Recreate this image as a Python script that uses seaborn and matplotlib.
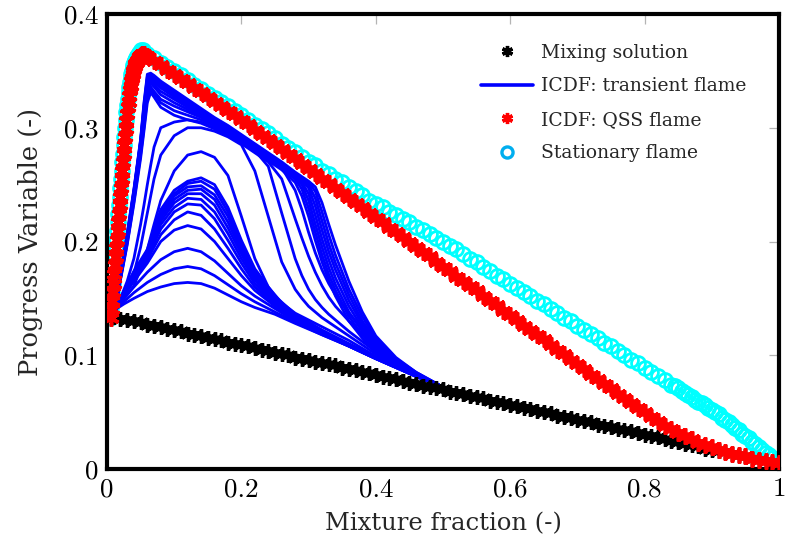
import matplotlib
matplotlib.use("Agg")
import matplotlib.pyplot as plt
from matplotlib.lines import Line2D
import pandas as pd
import seaborn as sns

# ---------------------------------------------------------------------------
# Mixture-fraction grid (shared by the marker series on their lean side)
# ---------------------------------------------------------------------------
Z_GRID = [
    0.00, 0.01, 0.02, 0.03, 0.04, 0.05, 0.06, 0.07, 0.08, 0.09,
    0.10, 0.11, 0.12, 0.13, 0.14, 0.15, 0.16, 0.17, 0.18, 0.19,
    0.20, 0.21, 0.22, 0.23, 0.24, 0.25, 0.26, 0.27, 0.28, 0.29,
    0.30, 0.31, 0.32, 0.33, 0.34, 0.35, 0.36, 0.37, 0.38, 0.39,
    0.40, 0.41, 0.42, 0.43, 0.44, 0.45, 0.46, 0.47, 0.48, 0.49,
    0.50, 0.51, 0.52, 0.53, 0.54, 0.55, 0.56, 0.57, 0.58, 0.59,
    0.60, 0.61, 0.62, 0.63, 0.64, 0.65, 0.66, 0.67, 0.68, 0.69,
    0.70, 0.71, 0.72, 0.73, 0.74, 0.75, 0.76, 0.77, 0.78, 0.79,
    0.80, 0.81, 0.82, 0.83, 0.84, 0.85, 0.86, 0.87, 0.88, 0.89,
    0.90, 0.91, 0.92, 0.93, 0.94, 0.95, 0.96, 0.97, 0.98, 0.99,
    1.00,
]

# Pure mixing (no reaction)
C_MIX = [
    0.135, 0.134, 0.132, 0.131, 0.130, 0.129, 0.127, 0.126, 0.125, 0.123,
    0.122, 0.121, 0.119, 0.118, 0.117, 0.115, 0.114, 0.113, 0.111, 0.110,
    0.109, 0.108, 0.106, 0.105, 0.104, 0.102, 0.101, 0.100, 0.098, 0.097,
    0.096, 0.094, 0.093, 0.092, 0.091, 0.089, 0.088, 0.087, 0.085, 0.084,
    0.083, 0.081, 0.080, 0.079, 0.077, 0.076, 0.075, 0.073, 0.072, 0.071,
    0.070, 0.068, 0.067, 0.066, 0.064, 0.063, 0.062, 0.060, 0.059, 0.058,
    0.056, 0.055, 0.054, 0.053, 0.051, 0.050, 0.049, 0.047, 0.046, 0.045,
    0.043, 0.042, 0.041, 0.039, 0.038, 0.037, 0.035, 0.034, 0.033, 0.032,
    0.030, 0.029, 0.028, 0.026, 0.025, 0.024, 0.022, 0.021, 0.020, 0.018,
    0.017, 0.016, 0.015, 0.013, 0.012, 0.011, 0.009, 0.008, 0.007, 0.005,
    0.004,
]

# ICDF quasi-steady flame: fine resolution across the reaction zone
Z_QSS_RICH = [
    0.006, 0.007, 0.008, 0.009, 0.010, 0.011, 0.012, 0.013, 0.014, 0.015,
    0.016, 0.017, 0.018, 0.019, 0.020, 0.021, 0.022, 0.023, 0.024, 0.025,
    0.026, 0.027, 0.028, 0.029, 0.030, 0.031, 0.032, 0.033, 0.034, 0.035,
    0.036, 0.037, 0.038, 0.039, 0.040, 0.041, 0.042, 0.043, 0.044, 0.045,
    0.046, 0.047, 0.048, 0.049, 0.050, 0.052, 0.055,
]
C_QSS_RICH = [
    0.133, 0.141, 0.148, 0.156, 0.163, 0.171, 0.179, 0.186, 0.194, 0.201,
    0.209, 0.217, 0.224, 0.232, 0.239, 0.247, 0.255, 0.262, 0.270, 0.277,
    0.285, 0.292, 0.299, 0.306, 0.312, 0.318, 0.323, 0.328, 0.333, 0.337,
    0.341, 0.344, 0.347, 0.350, 0.352, 0.354, 0.356, 0.357, 0.358, 0.359,
    0.360, 0.361, 0.362, 0.363, 0.364, 0.365, 0.365,
]
C_QSS_LEAN = [
    0.363, 0.359, 0.355, 0.351, 0.347, 0.343, 0.339, 0.335, 0.331, 0.327,
    0.323, 0.319, 0.315, 0.311, 0.307, 0.303, 0.298, 0.294, 0.290, 0.286,
    0.281, 0.277, 0.273, 0.268, 0.264, 0.260, 0.255, 0.251, 0.247, 0.243,
    0.238, 0.234, 0.230, 0.225, 0.221, 0.217, 0.212, 0.208, 0.204, 0.200,
    0.195, 0.191, 0.187, 0.182, 0.178, 0.174, 0.169, 0.165, 0.161, 0.157,
    0.152, 0.148, 0.144, 0.139, 0.135, 0.131, 0.126, 0.122, 0.118, 0.114,
    0.109, 0.105, 0.101, 0.096, 0.092, 0.088, 0.083, 0.079, 0.075, 0.071,
    0.066, 0.062, 0.058, 0.054, 0.050, 0.046, 0.042, 0.038, 0.035, 0.032,
    0.029, 0.026, 0.023, 0.021, 0.019, 0.017, 0.015, 0.013, 0.012, 0.011,
    0.009, 0.008, 0.007, 0.006, 0.005,
]

# Stationary flamelet solution
Z_STAT_RICH = [
    0.005, 0.006, 0.007, 0.008, 0.009, 0.010, 0.011, 0.012, 0.013, 0.014,
    0.015, 0.016, 0.017, 0.018, 0.019, 0.020, 0.021, 0.022, 0.023, 0.024,
    0.025, 0.026, 0.027, 0.028, 0.029, 0.030, 0.031, 0.032, 0.033, 0.034,
    0.035, 0.036, 0.037, 0.038, 0.039, 0.040, 0.041, 0.042, 0.043, 0.044,
    0.045, 0.046, 0.047, 0.048, 0.049, 0.051, 0.054,
]
C_STAT_RICH = [
    0.133, 0.141, 0.148, 0.156, 0.163, 0.171, 0.179, 0.186, 0.194, 0.201,
    0.209, 0.217, 0.224, 0.232, 0.239, 0.247, 0.255, 0.262, 0.270, 0.277,
    0.285, 0.292, 0.300, 0.307, 0.314, 0.320, 0.325, 0.331, 0.336, 0.340,
    0.344, 0.347, 0.350, 0.353, 0.355, 0.357, 0.359, 0.360, 0.361, 0.362,
    0.363, 0.364, 0.365, 0.366, 0.367, 0.368, 0.368,
]
# lean side on Z_GRID from 0.06 to 0.84
C_STAT_LEAN = [
    0.365, 0.361, 0.357, 0.353, 0.350, 0.346, 0.342, 0.338, 0.334, 0.330,
    0.326, 0.323, 0.319, 0.315, 0.311, 0.307, 0.302, 0.299, 0.295, 0.291,
    0.286, 0.282, 0.279, 0.274, 0.270, 0.267, 0.262, 0.259, 0.255, 0.252,
    0.248, 0.244, 0.241, 0.236, 0.233, 0.230, 0.226, 0.223, 0.220, 0.217,
    0.213, 0.210, 0.207, 0.203, 0.200, 0.196, 0.193, 0.189, 0.185, 0.182,
    0.178, 0.174, 0.170, 0.167, 0.163, 0.159, 0.156, 0.152, 0.148, 0.145,
    0.141, 0.137, 0.133, 0.130, 0.126, 0.122, 0.119, 0.115, 0.111, 0.108,
    0.104, 0.100, 0.096, 0.093, 0.089, 0.085, 0.082, 0.078, 0.074,
]
# fuel-side end, sampled more finely
Z_STAT_FUEL = [
    0.845, 0.850, 0.855, 0.860, 0.865, 0.870, 0.875, 0.880, 0.885, 0.890,
    0.895, 0.900, 0.905, 0.910, 0.915, 0.920, 0.925, 0.930, 0.935, 0.940,
    0.945, 0.950, 0.955, 0.960, 0.965, 0.970, 0.975, 0.980, 0.985, 0.990,
    0.995, 1.000,
]
C_STAT_FUEL = [
    0.073, 0.071, 0.069, 0.067, 0.065, 0.063, 0.061, 0.059, 0.058, 0.056,
    0.054, 0.052, 0.050, 0.048, 0.045, 0.043, 0.041, 0.039, 0.036, 0.034,
    0.031, 0.029, 0.027, 0.024, 0.022, 0.019, 0.017, 0.014, 0.012, 0.010,
    0.007, 0.005,
]

# ICDF transient flame snapshots -- early (weakly burning) states
T_Z_EARLY = [0.012, 0.025, 0.04, 0.06, 0.08, 0.10, 0.12, 0.14, 0.16, 0.18,
             0.20, 0.22, 0.25, 0.28, 0.32, 0.36, 0.40, 0.45, 0.50]
T_C_EARLY = [
    [0.140, 0.145, 0.150, 0.156, 0.160, 0.163, 0.164, 0.163, 0.159, 0.153, 0.147, 0.142, 0.136, 0.128, 0.118, 0.108, 0.097, 0.084, 0.072],
    [0.140, 0.147, 0.155, 0.164, 0.171, 0.176, 0.178, 0.176, 0.170, 0.162, 0.154, 0.147, 0.138, 0.129, 0.118, 0.108, 0.097, 0.084, 0.072],
    [0.140, 0.150, 0.160, 0.173, 0.184, 0.191, 0.194, 0.191, 0.183, 0.172, 0.161, 0.152, 0.141, 0.130, 0.119, 0.108, 0.097, 0.084, 0.072],
    [0.140, 0.152, 0.165, 0.181, 0.200, 0.210, 0.214, 0.211, 0.200, 0.185, 0.170, 0.157, 0.143, 0.131, 0.119, 0.108, 0.097, 0.084, 0.072],
    [0.140, 0.153, 0.167, 0.184, 0.206, 0.219, 0.226, 0.223, 0.211, 0.194, 0.176, 0.160, 0.144, 0.132, 0.120, 0.109, 0.098, 0.085, 0.072],
    [0.140, 0.154, 0.168, 0.186, 0.211, 0.226, 0.233, 0.232, 0.220, 0.201, 0.181, 0.163, 0.145, 0.132, 0.120, 0.109, 0.098, 0.085, 0.072],
    [0.140, 0.154, 0.169, 0.187, 0.215, 0.230, 0.238, 0.237, 0.226, 0.207, 0.185, 0.166, 0.146, 0.133, 0.120, 0.109, 0.098, 0.085, 0.072],
    [0.140, 0.155, 0.170, 0.188, 0.218, 0.234, 0.242, 0.242, 0.232, 0.212, 0.189, 0.168, 0.147, 0.133, 0.121, 0.109, 0.098, 0.085, 0.072],
    [0.140, 0.155, 0.171, 0.189, 0.221, 0.237, 0.245, 0.246, 0.237, 0.217, 0.192, 0.170, 0.148, 0.134, 0.121, 0.109, 0.098, 0.085, 0.072],
    [0.140, 0.155, 0.172, 0.190, 0.223, 0.240, 0.248, 0.249, 0.241, 0.222, 0.195, 0.172, 0.149, 0.134, 0.121, 0.109, 0.098, 0.085, 0.072],
    [0.140, 0.156, 0.173, 0.191, 0.225, 0.242, 0.251, 0.253, 0.246, 0.226, 0.198, 0.174, 0.150, 0.135, 0.122, 0.110, 0.098, 0.085, 0.072],
    [0.140, 0.156, 0.174, 0.193, 0.228, 0.245, 0.253, 0.256, 0.250, 0.230, 0.201, 0.176, 0.152, 0.136, 0.122, 0.110, 0.098, 0.085, 0.072],
]

# ICDF transient flame snapshots -- later (strongly burning) states
T_Z_LATE = [0.012, 0.02, 0.03, 0.04, 0.05, 0.055, 0.06, 0.065, 0.07, 0.08,
            0.10, 0.12, 0.14, 0.16, 0.18, 0.20, 0.22, 0.24, 0.26, 0.28,
            0.29, 0.30, 0.31, 0.32, 0.33, 0.34, 0.36, 0.38, 0.40, 0.43,
            0.46, 0.50]
T_C_LATE = [
    [0.140, 0.146, 0.153, 0.161, 0.176, 0.184, 0.193, 0.204, 0.215, 0.236, 0.262, 0.276, 0.279, 0.274, 0.258, 0.222, 0.185, 0.160, 0.146, 0.137, 0.134, 0.131, 0.128, 0.125, 0.122, 0.119, 0.113, 0.106, 0.099, 0.090, 0.081, 0.072],
    [0.140, 0.148, 0.158, 0.172, 0.195, 0.210, 0.225, 0.240, 0.255, 0.276, 0.293, 0.300, 0.300, 0.297, 0.292, 0.285, 0.262, 0.222, 0.182, 0.158, 0.150, 0.143, 0.138, 0.133, 0.129, 0.125, 0.117, 0.109, 0.101, 0.091, 0.082, 0.072],
    [0.140, 0.150, 0.165, 0.185, 0.215, 0.232, 0.250, 0.267, 0.283, 0.300, 0.305, 0.307, 0.305, 0.300, 0.294, 0.288, 0.280, 0.266, 0.225, 0.185, 0.170, 0.158, 0.149, 0.142, 0.136, 0.131, 0.121, 0.112, 0.103, 0.092, 0.082, 0.072],
    [0.140, 0.166, 0.197, 0.233, 0.273, 0.297, 0.322, 0.331, 0.327, 0.318, 0.311, 0.307, 0.304, 0.299, 0.293, 0.286, 0.278, 0.270, 0.255, 0.220, 0.203, 0.187, 0.173, 0.161, 0.151, 0.143, 0.130, 0.118, 0.107, 0.094, 0.083, 0.072],
    [0.140, 0.167, 0.198, 0.235, 0.276, 0.300, 0.326, 0.334, 0.330, 0.322, 0.315, 0.311, 0.307, 0.302, 0.296, 0.289, 0.281, 0.273, 0.265, 0.245, 0.228, 0.208, 0.190, 0.175, 0.163, 0.153, 0.137, 0.123, 0.111, 0.096, 0.084, 0.072],
    [0.140, 0.168, 0.200, 0.238, 0.280, 0.305, 0.330, 0.336, 0.332, 0.325, 0.319, 0.314, 0.309, 0.302, 0.295, 0.287, 0.279, 0.271, 0.263, 0.252, 0.240, 0.222, 0.201, 0.182, 0.166, 0.152, 0.130, 0.115, 0.103, 0.091, 0.082, 0.072],
    [0.140, 0.168, 0.201, 0.240, 0.282, 0.308, 0.333, 0.339, 0.336, 0.329, 0.322, 0.316, 0.310, 0.303, 0.296, 0.288, 0.280, 0.272, 0.264, 0.255, 0.246, 0.229, 0.208, 0.188, 0.171, 0.157, 0.134, 0.118, 0.105, 0.092, 0.082, 0.072],
    [0.140, 0.169, 0.202, 0.241, 0.284, 0.311, 0.336, 0.341, 0.338, 0.332, 0.325, 0.318, 0.311, 0.304, 0.297, 0.289, 0.281, 0.273, 0.265, 0.256, 0.250, 0.236, 0.215, 0.195, 0.177, 0.162, 0.138, 0.121, 0.107, 0.093, 0.083, 0.072],
    [0.140, 0.169, 0.203, 0.242, 0.286, 0.314, 0.339, 0.343, 0.340, 0.335, 0.327, 0.320, 0.313, 0.305, 0.298, 0.290, 0.282, 0.274, 0.266, 0.257, 0.252, 0.242, 0.223, 0.202, 0.184, 0.168, 0.143, 0.124, 0.109, 0.094, 0.083, 0.072],
    [0.140, 0.170, 0.204, 0.243, 0.287, 0.316, 0.341, 0.345, 0.342, 0.337, 0.329, 0.321, 0.314, 0.306, 0.299, 0.291, 0.283, 0.275, 0.267, 0.258, 0.254, 0.247, 0.231, 0.210, 0.191, 0.175, 0.148, 0.127, 0.111, 0.095, 0.084, 0.072],
    [0.140, 0.170, 0.205, 0.244, 0.288, 0.318, 0.343, 0.346, 0.344, 0.339, 0.331, 0.323, 0.315, 0.307, 0.300, 0.292, 0.284, 0.276, 0.268, 0.259, 0.255, 0.250, 0.238, 0.218, 0.198, 0.181, 0.153, 0.130, 0.113, 0.096, 0.084, 0.072],
    [0.140, 0.171, 0.206, 0.245, 0.289, 0.320, 0.345, 0.347, 0.345, 0.340, 0.332, 0.324, 0.316, 0.308, 0.301, 0.293, 0.285, 0.277, 0.269, 0.260, 0.256, 0.252, 0.244, 0.226, 0.206, 0.188, 0.158, 0.134, 0.115, 0.097, 0.085, 0.072],
    [0.140, 0.171, 0.207, 0.246, 0.290, 0.322, 0.347, 0.348, 0.346, 0.341, 0.333, 0.325, 0.317, 0.309, 0.302, 0.294, 0.286, 0.278, 0.270, 0.261, 0.257, 0.253, 0.248, 0.234, 0.215, 0.197, 0.165, 0.138, 0.117, 0.098, 0.085, 0.072],
]

LEGEND_LABELS = ["Mixing solution", "ICDF: transient flame",
                 "ICDF: QSS flame", "Stationary flame"]
X_TICKS = [0.0, 0.2, 0.4, 0.6, 0.8, 1.0]
X_TICK_LABELS = ["0", "0.2", "0.4", "0.6", "0.8", "1"]
Y_TICKS = [0.0, 0.1, 0.2, 0.3, 0.4]
Y_TICK_LABELS = ["0", "0.1", "0.2", "0.3", "0.4"]

# ---------------------------------------------------------------------------
sns.set_style("white")
plt.rcParams["font.family"] = ["DejaVu Serif"]

BLUE = "#0000ff"
RED = "#ff0000"
CYAN = "#00ffff"
STAR = (6, 2, 0)

fig = plt.figure(figsize=(7.86, 5.50), dpi=100)
ax = fig.add_axes([107 / 786, 1 - 469 / 550, 672 / 786, 455 / 550])

# long-format table for the transient snapshots
rows = []
for k, cs in enumerate(T_C_EARLY):
    rows += [(f"e{k}", z, c) for z, c in zip(T_Z_EARLY, cs)]
for k, cs in enumerate(T_C_LATE):
    rows += [(f"l{k}", z, c) for z, c in zip(T_Z_LATE, cs)]
transient = pd.DataFrame(rows, columns=["snapshot", "z", "c"])

stationary = pd.DataFrame({
    "z": Z_STAT_RICH + Z_GRID[6:85] + Z_STAT_FUEL,
    "c": C_STAT_RICH + C_STAT_LEAN + C_STAT_FUEL,
})
mixing = pd.DataFrame({"z": Z_GRID, "c": C_MIX})
qss = pd.DataFrame({"z": Z_QSS_RICH + Z_GRID[6:],
                    "c": C_QSS_RICH + C_QSS_LEAN})

# stationary flame: open circles
sns.lineplot(data=stationary, x="z", y="c", sort=False, estimator=None,
             ax=ax, color=CYAN, linewidth=0, marker="o", markersize=10,
             markerfacecolor="none", markeredgecolor=CYAN,
             markeredgewidth=2.0, zorder=2)

# transient flame snapshots
sns.lineplot(data=transient, x="z", y="c", units="snapshot", estimator=None,
             sort=False, ax=ax, color=BLUE, linewidth=2.0, legend=False,
             zorder=3)

# mixing line: asterisks
sns.lineplot(data=mixing, x="z", y="c", sort=False, estimator=None, ax=ax,
             color="black", linewidth=6.0, marker=STAR, markersize=10.5,
             markeredgecolor="black", markeredgewidth=2.4, zorder=4)

# quasi-steady flame: asterisks
sns.lineplot(data=qss, x="z", y="c", sort=False, estimator=None, ax=ax,
             color=RED, linewidth=6.5, marker=STAR, markersize=11.5,
             markeredgecolor=RED, markeredgewidth=2.6, zorder=5)

ax.set_xlim(0, 1)
ax.set_ylim(0, 0.4)

ax.set_xticks(X_TICKS)
ax.set_xticklabels(X_TICK_LABELS, fontfamily="cmr10", fontsize=19.5)
ax.set_yticks(Y_TICKS)
ax.set_yticklabels(Y_TICK_LABELS, fontfamily="cmr10", fontsize=19.5)
ax.tick_params(which="both", direction="in", length=7, width=0.9,
               color="#b4b4b4", top=True, right=True, pad=6,
               labelcolor="black")

for sp in ax.spines.values():
    sp.set_visible(True)
    sp.set_color("black")
    sp.set_linewidth(3.0)

ax.set_xlabel("Mixture fraction (-)", fontsize=17.5, labelpad=8)
ax.set_ylabel("Progress Variable (-)", fontsize=18.5, labelpad=15)

handles = [
    Line2D([], [], linestyle="none", marker=STAR, markersize=8,
           markeredgecolor="black", markeredgewidth=2.4),
    Line2D([], [], color=BLUE, linewidth=2.6),
    Line2D([], [], linestyle="none", marker=STAR, markersize=8,
           markeredgecolor=RED, markeredgewidth=2.4),
    Line2D([], [], linestyle="none", marker="o", markersize=8,
           markerfacecolor="none", markeredgecolor="#00aeef",
           markeredgewidth=2.4),
]
ax.legend(handles, LEGEND_LABELS, loc="upper left",
          bbox_to_anchor=(0.5565, 0.934), frameon=False, fontsize=13.5,
          handlelength=2.8, handletextpad=0.42, labelspacing=0.82,
          borderpad=0, borderaxespad=0)

fig.savefig("out.png", dpi=100)
